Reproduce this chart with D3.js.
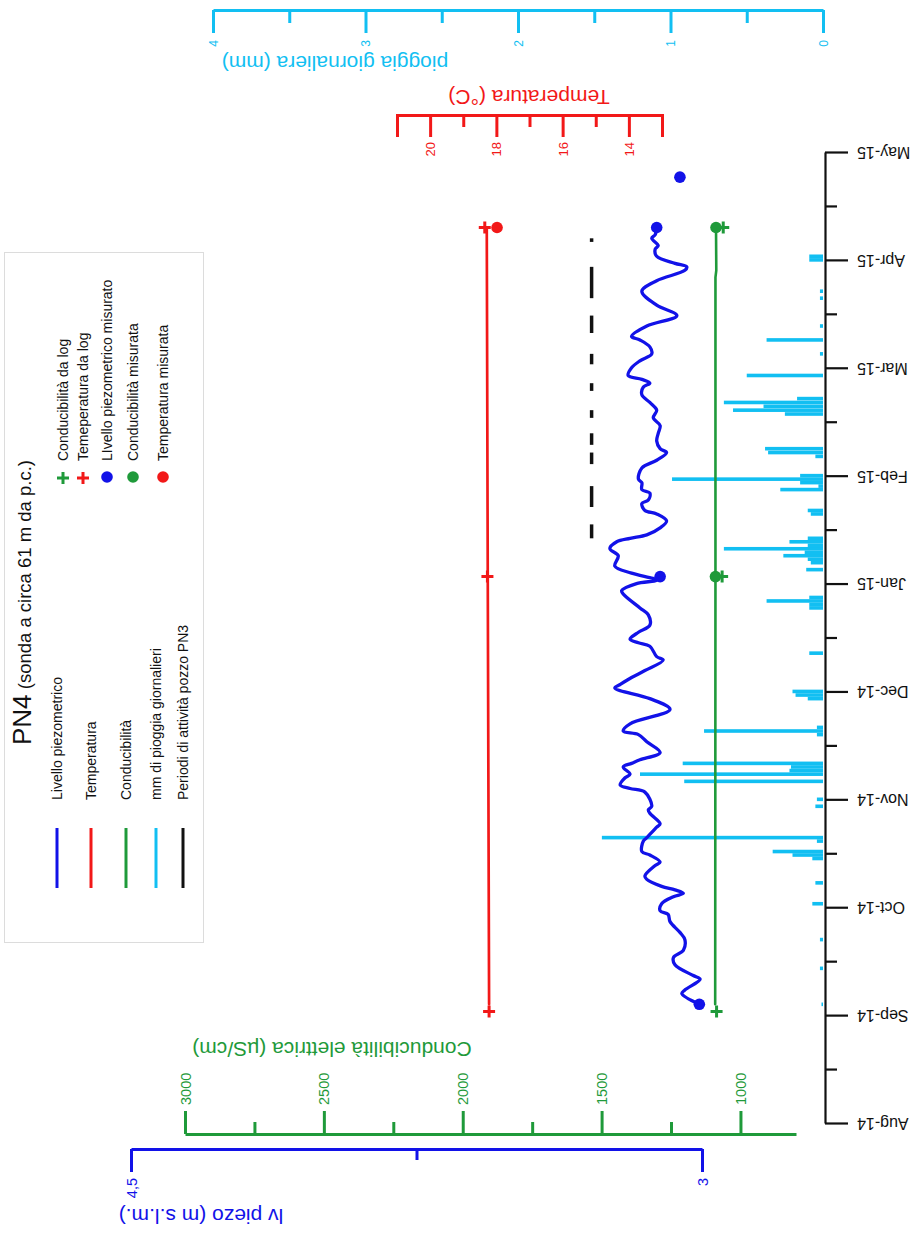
<!DOCTYPE html>
<html>
<head>
<meta charset="utf-8">
<script src="https://cdn.jsdelivr.net/npm/d3@7"></script>
<style>
body { margin: 0; background: #fff; }
svg text { font-family: "Liberation Sans", Arial, sans-serif; }
</style>
</head>
<body>
<div id="chart"></div>
<script>
// month labels of the time axis (Aug-14 .. May-15)
var monthLabels = ["Aug-14","Sep-14","Oct-14","Nov-14","Dec-14","Jan-15","Feb-15","Mar-15","Apr-15","May-15"];

// livello piezometrico da log (m s.l.m.)
var piezoLog = [
  ["2014-09-04",3.007],["2014-09-07",3.053],["2014-09-08",3.045],["2014-09-11",3.005],["2014-09-12",3.023],
  ["2014-09-15",3.071],["2014-09-17",3.075],["2014-09-19",3.049],["2014-09-22",3.045],["2014-09-24",3.058],
  ["2014-09-27",3.084],["2014-09-29",3.089],["2014-09-30",3.110],["2014-10-02",3.106],["2014-10-04",3.075],
  ["2014-10-05",3.049],["2014-10-06",3.071],["2014-10-07",3.106],["2014-10-09",3.145],["2014-10-10",3.150],
  ["2014-10-13",3.123],["2014-10-14",3.110],["2014-10-16",3.137],["2014-10-17",3.158],["2014-10-20",3.154],
  ["2014-10-21",3.145],["2014-10-24",3.119],["2014-10-25",3.110],["2014-10-28",3.137],["2014-10-29",3.141],
  ["2014-10-30",3.132],["2014-11-03",3.150],["2014-11-04",3.189],["2014-11-05",3.215],["2014-11-07",3.202],
  ["2014-11-08",3.189],["2014-11-10",3.207],["2014-11-11",3.185],["2014-11-12",3.163],["2014-11-14",3.110],
  ["2014-11-17",3.145],["2014-11-19",3.167],["2014-11-20",3.207],["2014-11-22",3.189],["2014-11-26",3.084],
  ["2014-11-29",3.137],["2014-12-02",3.229],["2014-12-03",3.215],["2014-12-05",3.185],["2014-12-07",3.150],
  ["2014-12-10",3.102],["2014-12-11",3.119],["2014-12-14",3.137],["2014-12-15",3.167],["2014-12-16",3.189],
  ["2014-12-18",3.167],["2014-12-20",3.137],["2014-12-23",3.141],["2014-12-25",3.163],["2014-12-29",3.207],
  ["2014-12-30",3.211],["2015-01-01",3.172],["2015-01-02",3.119],["2015-01-04",3.185],["2015-01-06",3.229],
  ["2015-01-09",3.220],["2015-01-11",3.242],["2015-01-13",3.224],["2015-01-14",3.189],["2015-01-15",3.145],
  ["2015-01-17",3.110],["2015-01-19",3.093],["2015-01-21",3.119],["2015-01-22",3.150],["2015-01-24",3.158],
  ["2015-01-25",3.141],["2015-01-27",3.137],["2015-01-28",3.158],["2015-01-30",3.158],["2015-01-31",3.167],
  ["2015-02-03",3.158],["2015-02-05",3.119],["2015-02-07",3.093],["2015-02-08",3.110],["2015-02-10",3.119],
  ["2015-02-12",3.115],["2015-02-14",3.110],["2015-02-16",3.128],["2015-02-18",3.119],["2015-02-20",3.137],
  ["2015-02-22",3.158],["2015-02-24",3.154],["2015-02-25",3.137],["2015-02-26",3.158],["2015-02-27",3.194],
  ["2015-03-01",3.185],["2015-03-03",3.163],["2015-03-05",3.132],["2015-03-07",3.137],["2015-03-09",3.163],
  ["2015-03-10",3.185],["2015-03-13",3.145],["2015-03-16",3.066],["2015-03-19",3.119],["2015-03-23",3.158],
  ["2015-03-26",3.119],["2015-03-29",3.045],["2015-03-30",3.040],["2015-03-31",3.071],["2015-04-02",3.119],
  ["2015-04-04",3.123],["2015-04-05",3.115],["2015-04-07",3.132],["2015-04-08",3.123],["2015-04-10",3.119]
];
var piezoMeasured = [["2014-09-04",3.007],["2015-01-03",3.110],["2015-04-10",3.119],["2015-04-24",3.058]];

// conducibilita (uS/cm)
var condLog = [["2014-09-04",1091],["2015-01-03",1090],["2015-03-27",1090],["2015-03-29",1087],["2015-04-10",1088]];
var condLogMarks = [["2014-09-02",1086],["2015-01-03",1066],["2015-04-10",1062]];
var condMeasured = [["2015-01-03",1090],["2015-04-10",1088]];

// temperatura (gradi C)
var tempLog = [["2014-09-04",18.22],["2015-01-03",18.26],["2015-04-10",18.29]];
var tempLogMarks = [["2014-09-02",18.22],["2015-01-03",18.27],["2015-04-10",18.35]];
var tempMeasured = [["2015-04-10",17.98]];

// pioggia giornaliera (mm)
var rain = [
  ["2014-09-04",0.01],["2014-09-14",0.02],["2014-09-22",0.02],["2014-10-02",0.07],["2014-10-08",0.05],
  ["2014-10-15",0.07],["2014-10-16",0.20],["2014-10-17",0.33],["2014-10-20",0.04],["2014-10-21",1.45],
  ["2014-10-30",0.05],["2014-11-01",0.04],["2014-11-06",0.91],["2014-11-08",1.20],["2014-11-09",0.22],
  ["2014-11-10",0.21],["2014-11-11",0.92],["2014-11-19",0.04],["2014-11-20",0.78],["2014-11-21",0.04],
  ["2014-11-29",0.10],["2014-11-30",0.18],["2014-12-01",0.20],["2014-12-12",0.09],["2014-12-25",0.09],
  ["2014-12-26",0.09],["2014-12-27",0.37],["2014-12-28",0.09],["2015-01-05",0.11],["2015-01-07",0.08],
  ["2015-01-08",0.10],["2015-01-09",0.26],["2015-01-10",0.12],["2015-01-11",0.65],["2015-01-12",0.10],
  ["2015-01-13",0.22],["2015-01-14",0.10],["2015-01-21",0.08],["2015-01-22",0.10],["2015-01-28",0.28],
  ["2015-01-29",0.03],["2015-01-30",0.15],["2015-01-31",0.99],["2015-02-01",0.15],["2015-02-06",0.05],
  ["2015-02-07",0.36],["2015-02-08",0.38],["2015-02-17",0.25],["2015-02-18",0.59],["2015-02-19",0.39],
  ["2015-02-20",0.65],["2015-02-21",0.17],["2015-02-27",0.50],["2015-03-05",0.02],["2015-03-09",0.37],
  ["2015-03-13",0.02],["2015-03-21",0.02],["2015-03-23",0.02],["2015-04-01",0.09],["2015-04-02",0.09]
];

// periodi di attivita pozzo PN3
var pn3Periods = [
  ["2015-01-14","2015-01-18"],["2015-01-23","2015-01-29"],["2015-02-04","2015-02-07"],["2015-02-09","2015-02-12"],
  ["2015-02-16","2015-02-18"],["2015-02-23","2015-02-25"],["2015-03-02","2015-03-05"],["2015-03-11","2015-03-16"],
  ["2015-03-21","2015-03-30"],["2015-04-06","2015-04-07"]
];
var pn3Level = 3.29;

var blue = "#1212e8", green = "#1f9a3a", red = "#f21818", cyan = "#12bff2";

var svg = d3.select("#chart").append("svg")
  .attr("width", 916)
  .attr("height", 1234);

// fractional month position from 1 Aug 2014 (each month same length on the axis)
function monthPos(s) {
  var d = new Date(s + "T00:00:00");
  var days = new Date(d.getFullYear(), d.getMonth() + 1, 0).getDate();
  return (d.getFullYear() - 2014) * 12 + d.getMonth() - 7 + (d.getDate() - 1) / days;
}

// scales
var y = d3.scaleLinear().domain([0, 9]).range([1123, 152]);
var xRain = d3.scaleLinear().domain([0, 4]).range([823, 213]);
var xTemp = d3.scaleLinear().domain([13, 21]).range([662, 397]);
var xCond = d3.scaleLinear().domain([800, 3000]).range([796, 185]);
var xPiezo = d3.scaleLinear().domain([3, 4.5]).range([702, 131]);
var plain = function(d) { return String(d); };

function styleAxis(g, color, w) {
  g.attr("color", color).attr("font-family", null).attr("font-size", null);
  g.selectAll("path, line").attr("stroke-width", w);
}
function rotLabels(g, angle, x, anchor, size) {
  g.selectAll(".tick text")
    .attr("transform", "rotate(" + angle + ")")
    .attr("x", x).attr("y", 0).attr("dy", "0.35em")
    .attr("text-anchor", anchor)
    .style("font-size", size + "px");
}

// rain bars
svg.append("g").selectAll("rect")
  .data(rain)
  .enter().append("rect")
  .attr("x", function(d) { return xRain(d[1]); })
  .attr("y", function(d) { return y(monthPos(d[0])) - 1.8; })
  .attr("width", function(d) { return xRain(0) - xRain(d[1]); })
  .attr("height", 3.6)
  .attr("fill", cyan);

// PN3 activity periods
svg.append("g").selectAll("line")
  .data(pn3Periods)
  .enter().append("line")
  .attr("x1", xPiezo(pn3Level)).attr("x2", xPiezo(pn3Level))
  .attr("y1", function(d) { return y(monthPos(d[0])); })
  .attr("y2", function(d) { return y(monthPos(d[1])); })
  .attr("stroke", "#111").attr("stroke-width", 3.5);

// lines
function drawLine(data, xs, color, w, curve) {
  var line = d3.line()
    .x(function(d) { return xs(d[1]); })
    .y(function(d) { return y(monthPos(d[0])); })
    .curve(curve || d3.curveLinear);
  svg.append("path").datum(data)
    .attr("d", line)
    .attr("fill", "none")
    .attr("stroke", color)
    .attr("stroke-width", w)
    .attr("stroke-linejoin", "round")
    .attr("stroke-linecap", "round");
}
drawLine(tempLog, xTemp, red, 2.7);
drawLine(condLog, xCond, green, 2.6);
drawLine(piezoLog, xPiezo, blue, 3.3, d3.curveCatmullRom.alpha(0.5));

function drawPlus(data, xs, color) {
  svg.append("g").selectAll("path")
    .data(data)
    .enter().append("path")
    .attr("transform", function(d) { return "translate(" + xs(d[1]) + "," + y(monthPos(d[0])) + ")"; })
    .attr("d", "M-6,0H6M0,-6V6")
    .attr("stroke", color).attr("stroke-width", 3);
}
function drawDots(data, xs, color) {
  svg.append("g").selectAll("circle")
    .data(data)
    .enter().append("circle")
    .attr("cx", function(d) { return xs(d[1]); })
    .attr("cy", function(d) { return y(monthPos(d[0])); })
    .attr("r", 5.8)
    .attr("fill", color);
}
drawPlus(tempLogMarks, xTemp, red);
drawPlus(condLogMarks, xCond, green);
drawDots(condMeasured, xCond, green);
drawDots(tempMeasured, xTemp, red);
drawDots(piezoMeasured, xPiezo, blue);

// time axis
var tAxis = svg.append("g").attr("transform", "translate(825,0)")
  .call(d3.axisRight(y).tickValues(d3.range(0, 10)).tickFormat(function(i) { return monthLabels[i]; })
    .tickSize(23).tickSizeOuter(0));
styleAxis(tAxis, "#111", 2.2);
rotLabels(tAxis, 180, -32, "end", 16);
var tMinor = svg.append("g").attr("transform", "translate(825,0)")
  .call(d3.axisRight(y).tickValues(d3.range(0.5, 9, 1)).tickFormat("").tickSize(12).tickSizeOuter(0));
styleAxis(tMinor, "#111", 2.2);
tMinor.select(".domain").remove();

// rain axis (top)
var rAxis = svg.append("g").attr("transform", "translate(0,10)")
  .call(d3.axisBottom(xRain).tickValues([0, 1, 2, 3, 4]).tickFormat(plain).tickSize(23).tickSizeOuter(0));
styleAxis(rAxis, cyan, 3);
rotLabels(rAxis, -90, -30, "end", 12);
var rMinor = svg.append("g").attr("transform", "translate(0,10)")
  .call(d3.axisBottom(xRain).tickValues([0.5, 1.5, 2.5, 3.5]).tickFormat("").tickSize(13).tickSizeOuter(0));
styleAxis(rMinor, cyan, 3);
rMinor.select(".domain").remove();

// temperature axis
var tpAxis = svg.append("g").attr("transform", "translate(0,115)")
  .call(d3.axisBottom(xTemp).tickValues([14, 16, 18, 20]).tickFormat(plain).tickSize(22).tickSizeOuter(22));
styleAxis(tpAxis, red, 3);
rotLabels(tpAxis, -90, -27, "end", 13);
var tpMinor = svg.append("g").attr("transform", "translate(0,115)")
  .call(d3.axisBottom(xTemp).tickValues([15, 17, 19]).tickFormat("").tickSize(12).tickSizeOuter(0));
styleAxis(tpMinor, red, 3);
tpMinor.select(".domain").remove();

// conductivity axis (bottom)
var cAxis = svg.append("g").attr("transform", "translate(0,1134)")
  .call(d3.axisTop(xCond).tickValues([1000, 1500, 2000, 2500, 3000]).tickFormat(plain).tickSize(23).tickSizeOuter(0));
styleAxis(cAxis, green, 3);
rotLabels(cAxis, -90, 29, "start", 14.5);
var cMinor = svg.append("g").attr("transform", "translate(0,1134)")
  .call(d3.axisTop(xCond).tickValues([1250, 1750, 2250, 2750]).tickFormat("").tickSize(12).tickSizeOuter(0));
styleAxis(cMinor, green, 3);
cMinor.select(".domain").remove();

// piezometric axis
var pAxis = svg.append("g").attr("transform", "translate(0,1149)")
  .call(d3.axisBottom(xPiezo).tickValues([3, 4.5]).tickFormat(function(d) { return String(d).replace(".", ","); })
    .tickSize(23).tickSizeOuter(0));
styleAxis(pAxis, blue, 3);
rotLabels(pAxis, -90, -29, "end", 14.5);
var pMinor = svg.append("g").attr("transform", "translate(0,1149)")
  .call(d3.axisBottom(xPiezo).tickValues([3.75]).tickFormat("").tickSize(11).tickSizeOuter(0));
styleAxis(pMinor, blue, 3);
pMinor.select(".domain").remove();

// axis titles (upside down)
function title(txt, cx, cy, color) {
  svg.append("text")
    .attr("transform", "translate(" + cx + "," + cy + ") rotate(180)")
    .attr("text-anchor", "middle")
    .attr("dominant-baseline", "central")
    .style("font-size", "21px")
    .attr("fill", color)
    .text(txt);
}
title("pioggia giornaliera (mm)", 335, 63, cyan);
title("Temperatura (°C)", 529, 97, red);
title("Conducibilità elettrica (µS/cm)", 332, 1049, green);
title("lv piezo (m s.l.m.)", 201, 1216, blue);

// legend
var leg = svg.append("g");
leg.append("rect").attr("x", 4.5).attr("y", 252.5).attr("width", 199).attr("height", 690)
  .attr("fill", "#fff").attr("stroke", "#dcdcdc").attr("stroke-width", 1);
var lt = leg.append("text").attr("transform", "translate(31,745) rotate(-90)").attr("fill", "#111");
lt.append("tspan").style("font-size", "26px").text("PN4");
lt.append("tspan").style("font-size", "18.5px").text(" (sonda a circa 61 m da p.c.)");

var symbolItems = [
  {label: "Conducibilità da log", color: green, kind: "plus", cx: 63},
  {label: "Temeperatura da log", color: red, kind: "plus", cx: 83},
  {label: "LIvello piezometrico misurato", color: blue, kind: "dot", cx: 107},
  {label: "Conducibilità misurata", color: green, kind: "dot", cx: 133},
  {label: "Temperatura misurata", color: red, kind: "dot", cx: 163}
];
symbolItems.forEach(function(d) {
  if (d.kind == "plus") {
    leg.append("path").attr("transform", "translate(" + d.cx + ",478)")
      .attr("d", "M-6,0H6M0,-6V6").attr("stroke", d.color).attr("stroke-width", 3);
  } else {
    leg.append("circle").attr("cx", d.cx).attr("cy", 477).attr("r", 5.8).attr("fill", d.color);
  }
  leg.append("text").attr("transform", "translate(" + (d.cx + 5) + ",461) rotate(-90)")
    .style("font-size", "14px").attr("fill", "#111").text(d.label);
});

var lineItems = [
  {label: "Livello piezometrico", color: blue, cx: 57},
  {label: "Temperatura", color: red, cx: 91},
  {label: "Conducibilità", color: green, cx: 126},
  {label: "mm di pioggia giornalieri", color: cyan, cx: 156},
  {label: "Periodi di attività pozzo PN3", color: "#111", cx: 183}
];
lineItems.forEach(function(d) {
  leg.append("line").attr("x1", d.cx).attr("x2", d.cx).attr("y1", 828).attr("y2", 888)
    .attr("stroke", d.color).attr("stroke-width", 3);
  leg.append("text").attr("transform", "translate(" + (d.cx + 5) + ",800) rotate(-90)")
    .style("font-size", "14px").attr("fill", "#111").text(d.label);
});
</script>
</body>
</html>
